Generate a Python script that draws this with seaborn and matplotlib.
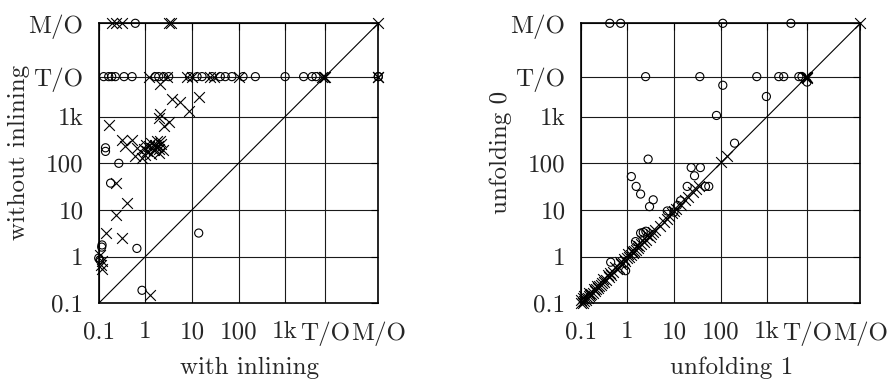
import matplotlib
matplotlib.use("Agg")
import matplotlib.pyplot as plt
import seaborn as sns
import pandas as pd

TO = 7200.0
MO = 1e5

tick_vals = [0.1, 1, 10, 100, 1000, TO, MO]
tick_labels = ["0.1", "1", "10", "100", "1k", "T/O", "M/O"]

# ---- left plot: with inlining (x) vs without inlining (y)
left_o_x = [0.128, 0.164, 0.19, 0.227, 0.35, 0.52, 1.64, 1.94, 2.48, 3.17,
            8.9, 12.9, 16.5, 27, 40.7, 52, 72, 125, 230, 1000,
            2500, 3800, 4600, MO, MO,
            0.61,
            0.14, 0.14, 0.27, 0.18, 0.66, 14, 0.118, 0.1, 0.116, 0.106, 0.85]
left_o_y = [TO, TO, TO, TO, TO, TO, TO, TO, TO, TO,
            TO, TO, TO, TO, TO, TO, TO, TO, TO, TO,
            TO, TO, TO, TO, TO,
            MO,
            215, 180, 100, 37.6, 1.5, 3.2, 1.78, 0.93, 1.6, 0.85, 0.19]

left_x_x = [0.19, 0.23, 0.31, 3.3, 3.6, MO,
            1.18, 2.9, 7.85, 10, 24.8, 29.5, 105, 6300, 6700, 7000, TO, MO, MO,
            2.1, 3.74, 5.6, 8.5, 14, 2.1, 3.17,
            0.164, 1.94, 2.48, 0.316, 0.52, 0.37, 0.66, 0.61, 0.85,
            0.95, 1.05, 1.1, 1.2, 1.3, 1.4, 1.5, 1.6, 1.7, 1.8,
            1.9, 2.0, 2.2, 2.4, 1.94, 2.1, 1.3, 1.0,
            0.23, 0.4, 0.23, 0.14, 0.316, 0.108, 0.115, 0.12, 0.11, 1.29]
left_x_y = [MO, MO, MO, MO, MO, MO,
            TO, TO, TO, TO, TO, TO, TO, TO, TO, TO, TO, TO, TO,
            5080, 2400, 2040, 1350, 2700, 1150, 760,
            670, 935, 620, 320, 320, 230, 215, 140, 130,
            200, 250, 180, 230, 270, 210, 190, 250, 220, 300,
            240, 200, 260, 190, 165, 300, 160, 150,
            37.6, 14, 7.9, 3.2, 2.5, 1.1, 0.8, 0.55, 0.65, 0.15]

# ---- right plot: unfolding 1 (x) vs unfolding 0 (y)
right_o_x = [0.42, 0.72, 112, 3240,
             2.47, 36, 600, 1780, 2270, 4800, 5600,
             112, 965, 82, 7200, 200, 2.8, 1.22, 1.55, 1.93,
             3.6, 3.0, 23.5, 37, 27.7, 19.3, 47.6, 56, 13.9, 7.2,
             10, 0.92, 0.44, 1.93, 1.5, 2.2, 2.5, 12]
right_o_y = [MO, MO, MO, MO,
             TO, TO, TO, TO, TO, TO, TO,
             4700, 2700, 1060, 5500, 270, 123, 52, 32, 21.9,
             16.5, 11.8, 81, 81, 54, 32, 32, 32, 15.7, 9.5,
             9, 0.5, 0.76, 3.2, 2.1, 3.3, 3.5, 12.5]

right_x_x = [0.10, 0.10, 0.11, 0.11, 0.12, 0.12, 0.13, 0.14, 0.15, 0.15,
             0.16, 0.17, 0.18, 0.19, 0.20, 0.21, 0.22, 0.24, 0.25, 0.27,
             0.29, 0.30, 0.32, 0.35, 0.38, 0.40, 0.42, 0.45, 0.50, 0.55,
             0.60, 0.65, 0.70, 0.75, 0.80, 0.85, 0.90, 1.00, 1.05, 1.10,
             1.20, 1.25, 1.30, 1.40, 1.50, 1.60, 1.70, 1.80, 2.00, 2.10,
             2.30, 2.50, 2.70, 3.00, 3.30, 3.60, 4.00, 5.00, 6.00, 7.00,
             8.00, 9.00, 10.0, 11.0, 14.0, 17.0, 20.0, 26.0, 30.0, 35.0,
             100, 137, MO, 6600, 7000, TO, TO]
right_x_y = [0.10, 0.12, 0.10, 0.13, 0.11, 0.14, 0.12, 0.13, 0.14, 0.17,
             0.15, 0.16, 0.17, 0.20, 0.18, 0.20, 0.24, 0.21, 0.23, 0.25,
             0.27, 0.33, 0.29, 0.32, 0.40, 0.36, 0.45, 0.41, 0.46, 0.60,
             0.54, 0.58, 0.75, 0.68, 0.72, 0.90, 0.82, 0.92, 1.15, 1.00,
             1.10, 1.35, 1.20, 1.30, 1.40, 1.75, 1.55, 1.65, 1.85, 2.30,
             2.10, 2.30, 2.90, 2.70, 3.00, 3.30, 3.70, 4.60, 5.50, 6.50,
             7.40, 8.50, 9.50, 10.5, 13.0, 16.0, 19.0, 24.0, 28.0, 33.0,
             105, 140, MO, TO, TO, TO, 6800]

sns.set_theme(style="white")
plt.rcParams["font.family"] = ["cmr10", "DejaVu Serif"]
plt.rcParams["axes.formatter.use_mathtext"] = True
plt.rcParams["mathtext.fontset"] = "cm"

W, H = 888, 379
fig = plt.figure(figsize=(W / 100, H / 100), dpi=100)
ax1 = fig.add_axes([98.7 / W, (H - 303.3) / H, 279.6 / W, 280 / H])
ax2 = fig.add_axes([580.7 / W, (H - 303.3) / H, 279.6 / W, 280 / H])

FS = 18


def draw(ax, ox, oy, xx, xy, xlabel, ylabel):
    lo, hi = tick_vals[0], tick_vals[-1]
    ax.set_xscale("log")
    ax.set_yscale("log")
    ax.set_xlim(lo, hi)
    ax.set_ylim(lo, hi)
    ax.plot([lo, hi], [lo, hi], color="black", lw=0.8, zorder=2)
    dfo = pd.DataFrame({"x": ox, "y": oy})
    dfx = pd.DataFrame({"x": xx, "y": xy})
    sns.scatterplot(data=dfo, x="x", y="y", ax=ax, marker="o", s=34,
                    facecolor="none", edgecolor="black", linewidth=0.8,
                    clip_on=False, zorder=3)
    sns.scatterplot(data=dfx, x="x", y="y", ax=ax, marker="x", s=60,
                    color="black", linewidth=0.8, clip_on=False, zorder=3)
    ax.set_xticks(tick_vals)
    ax.set_xticklabels(tick_labels)
    ax.set_yticks(tick_vals)
    ax.set_yticklabels(tick_labels)
    ax.minorticks_off()
    ax.grid(True, which="major", color="#1a1a1a", lw=0.8)
    ax.set_axisbelow(True)
    ax.tick_params(axis="both", which="major", direction="in", length=5,
                   width=0.8, color="black", top=True, right=True,
                   labelsize=FS)
    ax.tick_params(axis="x", pad=13)
    ax.tick_params(axis="y", pad=11)
    for sp in ax.spines.values():
        sp.set_color("black")
        sp.set_linewidth(1.2)
    ax.set_xlabel(xlabel, fontsize=FS)
    ax.set_ylabel(ylabel, fontsize=FS)
    ax.xaxis.set_label_coords(0.541, -0.19)
    ax.yaxis.set_label_coords(-0.245, 0.54)


draw(ax1, left_o_x, left_o_y, left_x_x, left_x_y, "with inlining", "without inlining")
draw(ax2, right_o_x, right_o_y, right_x_x, right_x_y, "unfolding 1", "unfolding 0")

fig.savefig("out.png", dpi=100)
